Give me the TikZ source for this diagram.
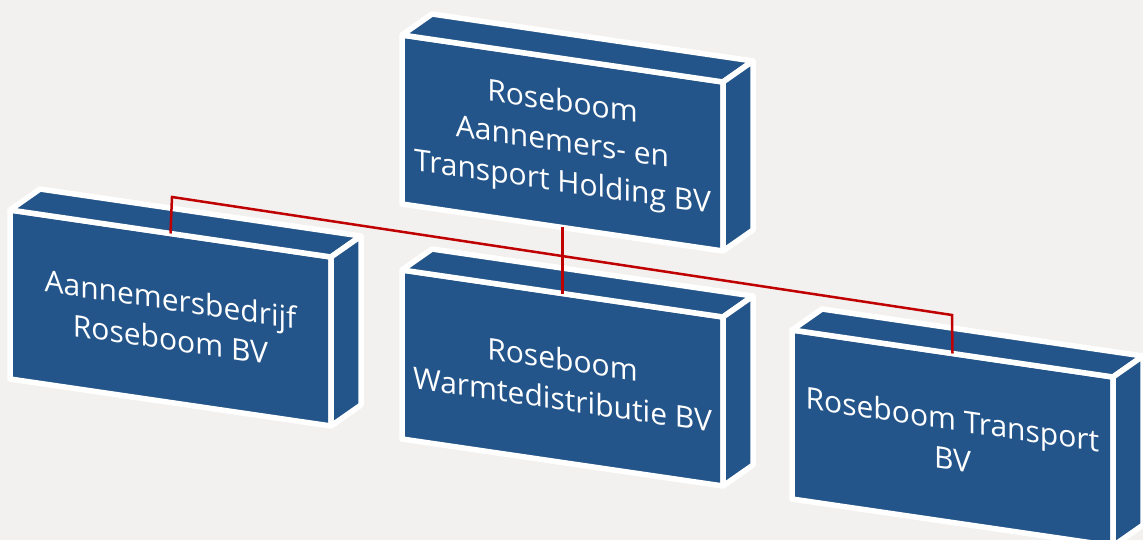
\documentclass[tikz,border=0pt]{standalone}
\usepackage{fontspec}
\setmainfont{Open Sans}
\usepackage{xcolor}
\usepackage{tikz}
\usetikzlibrary{positioning}

\definecolor{boxblue}{HTML}{24558A}
\definecolor{bgrey}{HTML}{F2F1EF}
\definecolor{linkred}{HTML}{C00000}

% 3D box: name, front top-left x, y, text
\newcommand{\orgbox}[4]{%
  \begin{scope}[shift={(#2,#3)}]
    \draw[boxface] (0,0) -- (321,47) -- (321,216) -- (0,169) -- cycle;
    \draw[boxface] (0,0) -- (30,-21) -- (351,26) -- (321,47) -- cycle;
    \draw[boxface] (321,47) -- (351,26) -- (351,195) -- (321,216) -- cycle;
    \node (#1) [boxtext] at (160.5,109) {#4};
    \coordinate (#1-top) at (160.5,23.5);
    \coordinate (#1-bot) at (160.5,192.5);
  \end{scope}}

\begin{document}
\begin{tikzpicture}[
    x=1pt, y=-1pt,
    boxface/.style={fill=boxblue, draw=white, line width=5.5pt, line join=round},
    boxtext/.style={text=white, align=center, yslant=-0.146,
      font=\fontsize{30}{40}\selectfont, inner sep=0pt},
    connector/.style={draw=linkred, line width=2.5pt}
]
\fill[bgrey] (0,0) rectangle (1143,540);
\useasboundingbox (0,0) rectangle (1143,540);

% Holding
\orgbox{holding}{402}{35}{Roseboom\\Aannemers- en\\Transport Holding BV}

% Subsidiaries
\orgbox{aannemer}{10}{210}{Aannemersbedrijf\\Roseboom BV}
\orgbox{warmte}{402}{270}{Roseboom\\Warmtedistributie BV}
\orgbox{transport}{792}{330}{Roseboom Transport\\BV}

% Connectors
\coordinate (barL) at (172,197);
\coordinate (barR) at (952,315);
\draw[connector] (aannemer-top) -- (barL) -- (barR) -- (transport-top);
\draw[connector] (holding-bot) -- (warmte-top);

\end{tikzpicture}
\end{document}
